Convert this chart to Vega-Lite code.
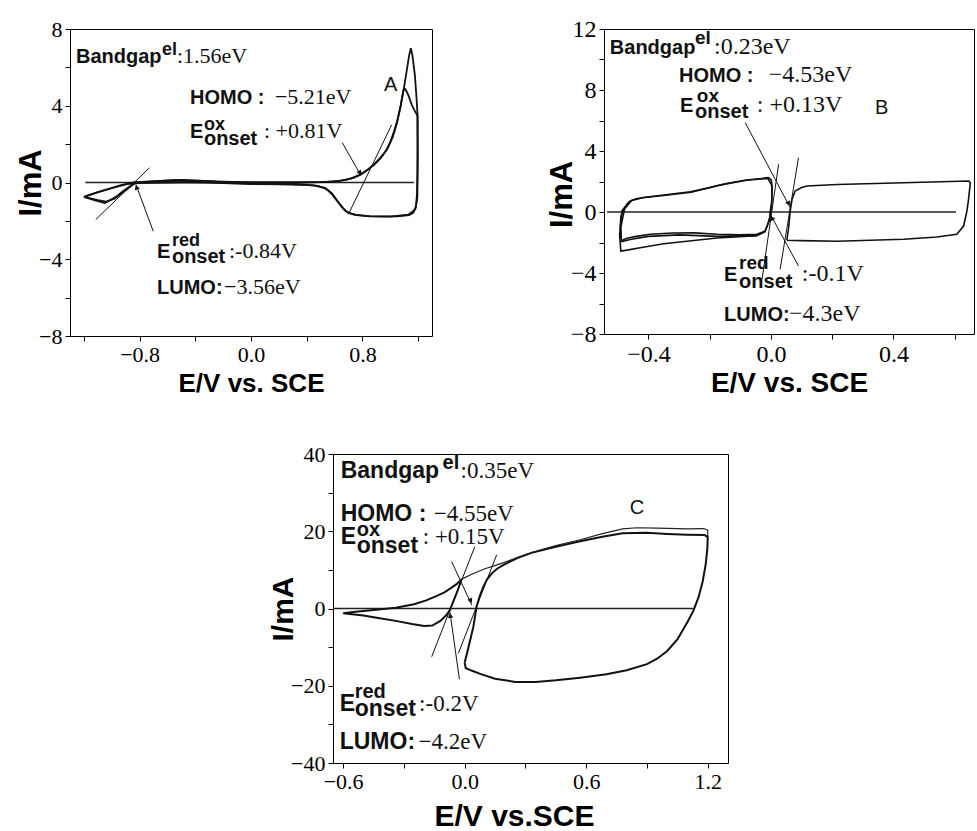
{
  "$schema": "https://vega.github.io/schema/vega-lite/v6.json",
  "background": "white",
  "padding": {"left": 15, "top": 16, "right": 0, "bottom": 0},
  "bounds": "flush",
  "spacing": 425,
  "config": {
    "view": {"stroke": "#000", "strokeWidth": 1},
    "axis": {
      "grid": false, "domain": false, "ticks": true, "tickColor": "#000", "tickSize": 5, "tickWidth": 1,
      "labelFont": "Liberation Serif", "labelFontSize": 22, "labelColor": "#000", "labelPadding": 3,
      "labelOverlap": false, "labelFlush": false,
      "titleFont": "Liberation Sans", "titleFontWeight": "bold", "titleColor": "#000"
    }
  },
  "vconcat": [
    {
      "hconcat": [
        {
          "width": 362, "height": 307,
          "encoding": {
            "x": {"field": "x", "type": "quantitative", "title": "E/V vs. SCE",
              "scale": {"domain": [-1.3, 1.3], "nice": false, "zero": false},
              "axis": {"values": [-1.2, -0.8, -0.4, 0, 0.4, 0.8, 1.2],
                "labelExpr": "abs(abs(datum.value)-0.8)<0.01 || abs(datum.value)<0.01 ? format(datum.value,'.1f') : ''",
                "titleFontSize": 26, "titlePadding": 5}},
            "y": {"field": "y", "type": "quantitative", "title": "I/mA",
              "scale": {"domain": [-8, 8], "nice": false, "zero": false},
              "axis": {"values": [-8, -6, -4, -2, 0, 2, 4, 6, 8],
                "labelExpr": "datum.value % 4 == 0 ? format(datum.value,'d') : ''",
                "titleFontSize": 31, "titlePadding": -9}}
          },
          "layer": [
            {"data": {"values": [{"x": -1.19, "y": 0}, {"x": 1.17, "y": 0}]},
             "mark": {"type": "line", "color": "#222", "strokeWidth": 1.3}},
            {"data": {"values": [
              {"c":1,"i":1,"x":-1.2,"y":-0.75},{"c":1,"i":2,"x":-1.12,"y":-0.55},{"c":1,"i":3,"x":-1.04,"y":-0.37},{"c":1,"i":4,"x":-0.94,"y":-0.15},{"c":1,"i":5,"x":-0.84,"y":0.0},{"c":1,"i":6,"x":-0.75,"y":0.05},{"c":1,"i":7,"x":-0.62,"y":0.1},{"c":1,"i":8,"x":-0.5,"y":0.13},{"c":1,"i":9,"x":-0.38,"y":0.1},{"c":1,"i":10,"x":-0.25,"y":0.05},{"c":1,"i":11,"x":-0.1,"y":0.02},{"c":1,"i":12,"x":0.05,"y":0.0},{"c":1,"i":13,"x":0.2,"y":0.0},{"c":1,"i":14,"x":0.35,"y":0.0},{"c":1,"i":15,"x":0.5,"y":0.02},{"c":1,"i":16,"x":0.6,"y":0.06},{"c":1,"i":17,"x":0.68,"y":0.14},{"c":1,"i":18,"x":0.74,"y":0.25},{"c":1,"i":19,"x":0.79,"y":0.42},{"c":1,"i":20,"x":0.84,"y":0.68},{"c":1,"i":21,"x":0.884,"y":0.94},{"c":1,"i":22,"x":0.93,"y":1.3},{"c":1,"i":23,"x":0.968,"y":1.64},{"c":1,"i":24,"x":1.0,"y":2.1},{"c":1,"i":25,"x":1.028,"y":2.68},{"c":1,"i":26,"x":1.05,"y":3.2},{"c":1,"i":27,"x":1.075,"y":4.0},{"c":1,"i":28,"x":1.1,"y":5.0},{"c":1,"i":29,"x":1.12,"y":5.9},{"c":1,"i":30,"x":1.135,"y":6.6},{"c":1,"i":31,"x":1.148,"y":7.0},{"c":1,"i":32,"x":1.16,"y":6.6},{"c":1,"i":33,"x":1.177,"y":5.6},{"c":1,"i":34,"x":1.188,"y":4.5},{"c":1,"i":35,"x":1.196,"y":3.55},{"c":1,"i":36,"x":1.196,"y":2.0},{"c":1,"i":37,"x":1.195,"y":0.5},{"c":1,"i":38,"x":1.192,"y":-0.6},{"c":1,"i":39,"x":1.185,"y":-1.25},{"c":1,"i":40,"x":1.165,"y":-1.58},{"c":1,"i":41,"x":1.135,"y":-1.7},{"c":1,"i":42,"x":1.05,"y":-1.76},{"c":1,"i":43,"x":0.95,"y":-1.77},{"c":1,"i":44,"x":0.85,"y":-1.75},{"c":1,"i":45,"x":0.76,"y":-1.7},{"c":1,"i":46,"x":0.7,"y":-1.58},{"c":1,"i":47,"x":0.66,"y":-1.35},{"c":1,"i":48,"x":0.62,"y":-0.98},{"c":1,"i":49,"x":0.58,"y":-0.6},{"c":1,"i":50,"x":0.54,"y":-0.33},{"c":1,"i":51,"x":0.48,"y":-0.18},{"c":1,"i":52,"x":0.4,"y":-0.12},{"c":1,"i":53,"x":0.25,"y":-0.1},{"c":1,"i":54,"x":0.1,"y":-0.07},{"c":1,"i":55,"x":0.0,"y":-0.05},{"c":1,"i":56,"x":-0.2,"y":-0.02},{"c":1,"i":57,"x":-0.4,"y":0.02},{"c":1,"i":58,"x":-0.6,"y":0.0},{"c":1,"i":59,"x":-0.75,"y":-0.02},{"c":1,"i":60,"x":-0.84,"y":-0.05},{"c":1,"i":61,"x":-0.92,"y":-0.45},{"c":1,"i":62,"x":-0.97,"y":-0.75},{"c":1,"i":63,"x":-1.05,"y":-1.07},{"c":1,"i":64,"x":-1.12,"y":-0.93},{"c":1,"i":65,"x":-1.2,"y":-0.75},
              {"c":2,"i":1,"x":-1.2,"y":-0.75},{"c":2,"i":2,"x":-1.1,"y":-0.5},{"c":2,"i":3,"x":-1.0,"y":-0.3},{"c":2,"i":4,"x":-0.9,"y":-0.1},{"c":2,"i":5,"x":-0.83,"y":0.0},{"c":2,"i":6,"x":-0.7,"y":0.06},{"c":2,"i":7,"x":-0.55,"y":0.12},{"c":2,"i":8,"x":-0.4,"y":0.1},{"c":2,"i":9,"x":-0.2,"y":0.04},{"c":2,"i":10,"x":0.0,"y":0.0},{"c":2,"i":11,"x":0.3,"y":0.0},{"c":2,"i":12,"x":0.55,"y":0.03},{"c":2,"i":13,"x":0.65,"y":0.1},{"c":2,"i":14,"x":0.72,"y":0.22},{"c":2,"i":15,"x":0.78,"y":0.4},{"c":2,"i":16,"x":0.83,"y":0.62},{"c":2,"i":17,"x":0.88,"y":0.9},{"c":2,"i":18,"x":0.93,"y":1.25},{"c":2,"i":19,"x":0.98,"y":1.75},{"c":2,"i":20,"x":1.02,"y":2.4},{"c":2,"i":21,"x":1.05,"y":3.15},{"c":2,"i":22,"x":1.075,"y":4.0},{"c":2,"i":23,"x":1.092,"y":4.7},{"c":2,"i":24,"x":1.1,"y":4.9},{"c":2,"i":25,"x":1.11,"y":4.85},{"c":2,"i":26,"x":1.13,"y":4.55},{"c":2,"i":27,"x":1.155,"y":4.05},{"c":2,"i":28,"x":1.177,"y":3.72},{"c":2,"i":29,"x":1.196,"y":3.47},{"c":2,"i":30,"x":1.198,"y":1.5},{"c":2,"i":31,"x":1.195,"y":-0.8},{"c":2,"i":32,"x":1.18,"y":-1.4},{"c":2,"i":33,"x":1.13,"y":-1.68},{"c":2,"i":34,"x":1.0,"y":-1.78},{"c":2,"i":35,"x":0.85,"y":-1.77},{"c":2,"i":36,"x":0.74,"y":-1.68},{"c":2,"i":37,"x":0.68,"y":-1.5},{"c":2,"i":38,"x":0.63,"y":-1.05},{"c":2,"i":39,"x":0.58,"y":-0.55},{"c":2,"i":40,"x":0.53,"y":-0.28},{"c":2,"i":41,"x":0.45,"y":-0.15},{"c":2,"i":42,"x":0.3,"y":-0.1},{"c":2,"i":43,"x":0.0,"y":-0.08},{"c":2,"i":44,"x":-0.3,"y":0.0},{"c":2,"i":45,"x":-0.6,"y":0.02},{"c":2,"i":46,"x":-0.83,"y":-0.02},{"c":2,"i":47,"x":-0.9,"y":-0.4},{"c":2,"i":48,"x":-0.98,"y":-0.85},{"c":2,"i":49,"x":-1.04,"y":-1.0},{"c":2,"i":50,"x":-1.1,"y":-0.92},{"c":2,"i":51,"x":-1.2,"y":-0.75}
            ]},
             "mark": {"type": "line", "color": "#111", "strokeWidth": 1.8},
             "encoding": {"detail": {"field": "c", "type": "nominal"}, "order": {"field": "i", "type": "quantitative"}}},
            {"data": {"values": [
              {"x": -1.115, "y": -1.93, "x2": -0.73, "y2": 0.76},
              {"x": 0.70, "y": -1.65, "x2": 1.01, "y2": 3.0},
              {"x": -0.702, "y": -2.54, "x2": -0.827, "y2": -0.1},
              {"x": 0.656, "y": 2.07, "x2": 0.788, "y2": 0.38}
            ]},
             "mark": {"type": "rule", "color": "#111", "strokeWidth": 1},
             "encoding": {"x2": {"field": "x2"}, "y2": {"field": "y2"}}},
            {"data": {"values": [{"x": -0.822, "y": -0.25}]},
             "mark": {"type": "point", "shape": "triangle-up", "filled": true, "color": "#111", "opacity": 1, "size": 30, "angle": -20}},
            {"data": {"values": [{"x": 0.783, "y": 0.5}]},
             "mark": {"type": "point", "shape": "triangle-up", "filled": true, "color": "#111", "opacity": 1, "size": 30, "angle": 150}},
            {"data": {"values": [
              {"x": -1.257, "y": 6.23, "t": "Bandgap"}, {"x": -0.438, "y": 4.09, "t": "HOMO :"},
              {"x": -0.438, "y": 2.32, "t": "E"}, {"x": -0.338, "y": 1.95, "t": "onset"},
              {"x": -0.675, "y": -3.93, "t": "E"}, {"x": -0.568, "y": -4.19, "t": "onset"},
              {"x": -0.675, "y": -5.81, "t": "LUMO:"}
            ]},
             "mark": {"type": "text", "align": "left", "baseline": "alphabetic", "font": "Liberation Sans", "fontWeight": "bold", "fontSize": 20, "color": "#111"},
             "encoding": {"text": {"field": "t"}}},
            {"data": {"values": [
              {"x": -0.639, "y": 6.64, "t": "el"}, {"x": -0.338, "y": 2.74, "t": "ox"}, {"x": -0.568, "y": -3.31, "t": "red"}
            ]},
             "mark": {"type": "text", "align": "left", "baseline": "alphabetic", "font": "Liberation Sans", "fontWeight": "bold", "fontSize": 18, "color": "#111"},
             "encoding": {"text": {"field": "t"}}},
            {"data": {"values": [
              {"x": -0.532, "y": 6.23, "t": ":1.56eV"}, {"x": 0.172, "y": 4.09, "t": "−5.21eV"},
              {"x": 0.093, "y": 2.32, "t": ": +0.81V"}, {"x": -0.158, "y": -3.93, "t": ":-0.84V"},
              {"x": -0.194, "y": -5.81, "t": "−3.56eV"}
            ]},
             "mark": {"type": "text", "align": "left", "baseline": "alphabetic", "font": "Liberation Serif", "fontSize": 22, "color": "#111"},
             "encoding": {"text": {"field": "t"}}},
            {"data": {"values": [{"x": 0.955, "y": 4.77, "t": "A"}]},
             "mark": {"type": "text", "align": "left", "baseline": "alphabetic", "font": "Liberation Sans", "fontSize": 20, "color": "#111"},
             "encoding": {"text": {"field": "t"}}}
          ]
        },
        {
          "width": 370, "height": 305,
          "encoding": {
            "x": {"field": "x", "type": "quantitative", "title": "E/V vs. SCE",
              "scale": {"domain": [-0.545, 0.663], "nice": false, "zero": false},
              "axis": {"values": [-0.4, -0.2, 0, 0.2, 0.4, 0.6],
                "labelExpr": "datum.value == -0.4 || datum.value == 0 || datum.value == 0.4 ? format(datum.value,'.1f') : ''",
                "labelFontSize": 24, "titleFontSize": 28, "titlePadding": 3}},
            "y": {"field": "y", "type": "quantitative", "title": "I/mA",
              "scale": {"domain": [-8, 12], "nice": false, "zero": false},
              "axis": {"values": [-8, -6, -4, -2, 0, 2, 4, 6, 8, 10, 12],
                "labelExpr": "datum.value % 4 == 0 ? format(datum.value,'d') : ''",
                "labelFontSize": 24, "titleFontSize": 31, "titlePadding": -8, "titleY": 165}}
          },
          "layer": [
            {"data": {"values": [{"x": -0.535, "y": 0}, {"x": 0.604, "y": 0}]},
             "mark": {"type": "line", "color": "#222", "strokeWidth": 1.3}},
            {"data": {"values": [
              {"c":1,"i":1,"x":-0.49,"y":-1.9},{"c":1,"i":2,"x":-0.492,"y":-1.0},{"c":1,"i":3,"x":-0.49,"y":-0.3},{"c":1,"i":4,"x":-0.481,"y":0.17},{"c":1,"i":5,"x":-0.47,"y":0.5},{"c":1,"i":6,"x":-0.459,"y":0.72},{"c":1,"i":7,"x":-0.44,"y":0.86},{"c":1,"i":8,"x":-0.41,"y":0.97},{"c":1,"i":9,"x":-0.35,"y":1.11},{"c":1,"i":10,"x":-0.263,"y":1.33},{"c":1,"i":11,"x":-0.2,"y":1.6},{"c":1,"i":12,"x":-0.15,"y":1.85},{"c":1,"i":13,"x":-0.08,"y":2.1},{"c":1,"i":14,"x":-0.03,"y":2.2},{"c":1,"i":15,"x":-0.008,"y":2.25},{"c":1,"i":16,"x":0.001,"y":2.1},{"c":1,"i":17,"x":0.003,"y":1.81},{"c":1,"i":18,"x":0.003,"y":0.72},{"c":1,"i":19,"x":-0.002,"y":0.07},{"c":1,"i":20,"x":-0.004,"y":-0.37},{"c":1,"i":21,"x":-0.012,"y":-0.9},{"c":1,"i":22,"x":-0.019,"y":-1.25},{"c":1,"i":23,"x":-0.046,"y":-1.46},{"c":1,"i":24,"x":-0.1,"y":-1.5},{"c":1,"i":25,"x":-0.176,"y":-1.46},{"c":1,"i":26,"x":-0.25,"y":-1.37},{"c":1,"i":27,"x":-0.32,"y":-1.38},{"c":1,"i":28,"x":-0.394,"y":-1.46},{"c":1,"i":29,"x":-0.44,"y":-1.6},{"c":1,"i":30,"x":-0.47,"y":-1.72},{"c":1,"i":31,"x":-0.49,"y":-1.9},
              {"c":2,"i":1,"x":-0.488,"y":-1.95},{"c":2,"i":2,"x":-0.49,"y":-1.0},{"c":2,"i":3,"x":-0.478,"y":0.2},{"c":2,"i":4,"x":-0.455,"y":0.75},{"c":2,"i":5,"x":-0.42,"y":0.93},{"c":2,"i":6,"x":-0.35,"y":1.08},{"c":2,"i":7,"x":-0.26,"y":1.3},{"c":2,"i":8,"x":-0.176,"y":1.72},{"c":2,"i":9,"x":-0.08,"y":2.08},{"c":2,"i":10,"x":-0.01,"y":2.2},{"c":2,"i":11,"x":0.004,"y":1.7},{"c":2,"i":12,"x":0.002,"y":0.3},{"c":2,"i":13,"x":-0.006,"y":-0.6},{"c":2,"i":14,"x":-0.02,"y":-1.3},{"c":2,"i":15,"x":-0.05,"y":-1.55},{"c":2,"i":16,"x":-0.176,"y":-1.6},{"c":2,"i":17,"x":-0.3,"y":-1.5},{"c":2,"i":18,"x":-0.4,"y":-1.6},{"c":2,"i":19,"x":-0.46,"y":-1.8},{"c":2,"i":20,"x":-0.488,"y":-1.95},
              {"c":3,"i":1,"x":-0.02,"y":-1.3},{"c":3,"i":2,"x":-0.046,"y":-1.55},{"c":3,"i":3,"x":-0.176,"y":-1.7},{"c":3,"i":4,"x":-0.35,"y":-2.08},{"c":3,"i":5,"x":-0.427,"y":-2.34},{"c":3,"i":6,"x":-0.47,"y":-2.5},{"c":3,"i":7,"x":-0.49,"y":-2.56},{"c":3,"i":8,"x":-0.494,"y":-1.5},{"c":3,"i":9,"x":-0.486,"y":0.1},{"c":3,"i":10,"x":-0.462,"y":0.68},
              {"c":4,"i":1,"x":0.052,"y":-1.85},{"c":4,"i":2,"x":0.058,"y":-1.0},{"c":4,"i":3,"x":0.063,"y":0.07},{"c":4,"i":4,"x":0.069,"y":0.83},{"c":4,"i":5,"x":0.079,"y":1.38},{"c":4,"i":6,"x":0.1,"y":1.6},{"c":4,"i":7,"x":0.118,"y":1.7},{"c":4,"i":8,"x":0.216,"y":1.8},{"c":4,"i":9,"x":0.433,"y":1.92},{"c":4,"i":10,"x":0.646,"y":2.03},{"c":4,"i":11,"x":0.651,"y":1.92},{"c":4,"i":12,"x":0.645,"y":0.8},{"c":4,"i":13,"x":0.64,"y":0.07},{"c":4,"i":14,"x":0.629,"y":-0.92},{"c":4,"i":15,"x":0.607,"y":-1.46},{"c":4,"i":16,"x":0.542,"y":-1.64},{"c":4,"i":17,"x":0.433,"y":-1.79},{"c":4,"i":18,"x":0.216,"y":-1.92},{"c":4,"i":19,"x":0.1,"y":-1.88},{"c":4,"i":20,"x":0.052,"y":-1.85}
            ]},
             "mark": {"type": "line", "color": "#111", "strokeWidth": 1.6},
             "encoding": {"detail": {"field": "c", "type": "nominal"}, "order": {"field": "i", "type": "quantitative"}}},
            {"data": {"values": [
              {"x": 0.025, "y": 3.13, "x2": -0.029, "y2": -4.42},
              {"x": 0.09, "y": 3.56, "x2": 0.03, "y2": -3.76},
              {"x": -0.084, "y": 5.86, "x2": 0.063, "y2": 0.28},
              {"x": 0.09, "y": -3.54, "x2": -0.002, "y2": -0.15}
            ]},
             "mark": {"type": "rule", "color": "#111", "strokeWidth": 1},
             "encoding": {"x2": {"field": "x2"}, "y2": {"field": "y2"}}},
            {"data": {"values": [{"x": 0.058, "y": 0.55}]},
             "mark": {"type": "point", "shape": "triangle-up", "filled": true, "color": "#111", "opacity": 1, "size": 30, "angle": 152}},
            {"data": {"values": [{"x": 0.003, "y": -0.4}]},
             "mark": {"type": "point", "shape": "triangle-up", "filled": true, "color": "#111", "opacity": 1, "size": 30, "angle": -29}},
            {"data": {"values": [
              {"x": -0.526, "y": 10.36, "t": "Bandgap"}, {"x": -0.300, "y": 8.52, "t": "HOMO :"},
              {"x": -0.297, "y": 6.54, "t": "E"}, {"x": -0.248, "y": 6.16, "t": "onset"},
              {"x": -0.153, "y": -4.52, "t": "E"}, {"x": -0.104, "y": -4.98, "t": "onset"},
              {"x": -0.153, "y": -7.15, "t": "LUMO:"}
            ]},
             "mark": {"type": "text", "align": "left", "baseline": "alphabetic", "font": "Liberation Sans", "fontWeight": "bold", "fontSize": 20, "color": "#111"},
             "encoding": {"text": {"field": "t"}}},
            {"data": {"values": [
              {"x": -0.248, "y": 11.02, "t": "el"}, {"x": -0.242, "y": 7.21, "t": "ox"}, {"x": -0.104, "y": -3.74, "t": "red"}
            ]},
             "mark": {"type": "text", "align": "left", "baseline": "alphabetic", "font": "Liberation Sans", "fontWeight": "bold", "fontSize": 19, "color": "#111"},
             "encoding": {"text": {"field": "t"}}},
            {"data": {"values": [
              {"x": -0.186, "y": 10.36, "t": ":0.23eV"}, {"x": -0.007, "y": 8.52, "t": "−4.53eV"},
              {"x": -0.046, "y": 6.54, "t": ": +0.13V"}, {"x": 0.101, "y": -4.52, "t": ":-0.1V"},
              {"x": 0.059, "y": -7.15, "t": "−4.3eV"}
            ]},
             "mark": {"type": "text", "align": "left", "baseline": "alphabetic", "font": "Liberation Serif", "fontSize": 24, "color": "#111"},
             "encoding": {"text": {"field": "t"}}},
            {"data": {"values": [{"x": 0.34, "y": 6.43, "t": "B"}]},
             "mark": {"type": "text", "align": "left", "baseline": "alphabetic", "font": "Liberation Sans", "fontSize": 20, "color": "#111"},
             "encoding": {"text": {"field": "t"}}}
          ]
        }
      ],
      "spacing": 172,
      "bounds": "flush"
    },
    {
      "hconcat": [
        {
          "width": 263, "height": 309,
          "view": {"stroke": null},
          "data": {"values": [{"x": 0}]},
          "mark": {"type": "point", "opacity": 0},
          "encoding": {}
        },
        {
          "width": 395, "height": 309,
          "encoding": {
            "x": {"field": "x", "type": "quantitative", "title": "E/V vs.SCE",
              "scale": {"domain": [-0.65, 1.3], "nice": false, "zero": false},
              "axis": {"values": [-0.6, -0.3, 0, 0.3, 0.6, 0.9, 1.2],
                "labelExpr": "datum.value == -0.6 || datum.value == 0 || datum.value == 0.6 || datum.value == 1.2 ? format(datum.value,'.1f') : ''",
                "titleFontSize": 30, "titlePadding": 9, "titleX": 181}},
            "y": {"field": "y", "type": "quantitative", "title": "I/mA",
              "scale": {"domain": [-40, 40], "nice": false, "zero": false},
              "axis": {"values": [-40, -30, -20, -10, 0, 10, 20, 30, 40],
                "labelExpr": "datum.value % 20 == 0 ? format(datum.value,'d') : ''",
                "titleFontSize": 30, "titlePadding": -8}}
          },
          "layer": [
            {"data": {"values": [{"x": -0.65, "y": 0}, {"x": 1.13, "y": 0}]},
             "mark": {"type": "line", "color": "#222", "strokeWidth": 1.3}},
            {"data": {"values": [
              {"c":1,"i":1,"x":-0.6,"y":-1.2},{"c":1,"i":2,"x":-0.5,"y":-1.8},{"c":1,"i":3,"x":-0.42,"y":-2.5},{"c":1,"i":4,"x":-0.34,"y":-3.2},{"c":1,"i":5,"x":-0.26,"y":-4.0},{"c":1,"i":6,"x":-0.2,"y":-4.5},{"c":1,"i":7,"x":-0.16,"y":-4.4},{"c":1,"i":8,"x":-0.12,"y":-3.2},{"c":1,"i":9,"x":-0.09,"y":-1.7},{"c":1,"i":10,"x":-0.073,"y":-0.4},{"c":1,"i":11,"x":-0.055,"y":2.0},{"c":1,"i":12,"x":-0.035,"y":4.6},{"c":1,"i":13,"x":-0.015,"y":7.6},{"c":1,"i":14,"x":-0.04,"y":6.3},{"c":1,"i":15,"x":-0.07,"y":5.2},{"c":1,"i":16,"x":-0.1,"y":4.2},{"c":1,"i":17,"x":-0.14,"y":3.2},{"c":1,"i":18,"x":-0.19,"y":2.1},{"c":1,"i":19,"x":-0.25,"y":1.1},{"c":1,"i":20,"x":-0.34,"y":0.2},{"c":1,"i":21,"x":-0.45,"y":-0.4},{"c":1,"i":22,"x":-0.55,"y":-0.9},{"c":1,"i":23,"x":-0.6,"y":-1.2},
              {"c":2,"i":1,"x":0.0,"y":-14.0},{"c":2,"i":2,"x":0.012,"y":-11.5},{"c":2,"i":3,"x":0.028,"y":-8.0},{"c":2,"i":4,"x":0.043,"y":-4.7},{"c":2,"i":5,"x":0.059,"y":0.5},{"c":2,"i":6,"x":0.075,"y":3.3},{"c":2,"i":7,"x":0.092,"y":5.6},{"c":2,"i":8,"x":0.11,"y":7.5},{"c":2,"i":9,"x":0.134,"y":9.1},{"c":2,"i":10,"x":0.16,"y":10.3},{"c":2,"i":11,"x":0.192,"y":11.3},{"c":2,"i":12,"x":0.257,"y":13.0},{"c":2,"i":13,"x":0.33,"y":14.4},{"c":2,"i":14,"x":0.45,"y":16.0},{"c":2,"i":15,"x":0.57,"y":17.4},{"c":2,"i":16,"x":0.68,"y":18.6},{"c":2,"i":17,"x":0.78,"y":19.5},{"c":2,"i":18,"x":0.9,"y":19.6},{"c":2,"i":19,"x":1.0,"y":19.3},{"c":2,"i":20,"x":1.1,"y":19.1},{"c":2,"i":21,"x":1.185,"y":19.0},{"c":2,"i":22,"x":1.2,"y":18.5},{"c":2,"i":23,"x":1.198,"y":15.5},{"c":2,"i":24,"x":1.19,"y":11.5},{"c":2,"i":25,"x":1.175,"y":7.0},{"c":2,"i":26,"x":1.155,"y":3.0},{"c":2,"i":27,"x":1.13,"y":-0.5},{"c":2,"i":28,"x":1.1,"y":-3.5},{"c":2,"i":29,"x":1.05,"y":-8.0},{"c":2,"i":30,"x":1.0,"y":-11.0},{"c":2,"i":31,"x":0.95,"y":-13.0},{"c":2,"i":32,"x":0.9,"y":-14.4},{"c":2,"i":33,"x":0.8,"y":-16.0},{"c":2,"i":34,"x":0.7,"y":-17.0},{"c":2,"i":35,"x":0.57,"y":-17.9},{"c":2,"i":36,"x":0.45,"y":-18.6},{"c":2,"i":37,"x":0.35,"y":-19.0},{"c":2,"i":38,"x":0.25,"y":-19.0},{"c":2,"i":39,"x":0.15,"y":-18.2},{"c":2,"i":40,"x":0.08,"y":-17.0},{"c":2,"i":41,"x":0.03,"y":-16.0},{"c":2,"i":42,"x":0.005,"y":-15.4},{"c":2,"i":43,"x":0.0,"y":-14.0}
            ]},
             "mark": {"type": "line", "color": "#111", "strokeWidth": 2},
             "encoding": {"detail": {"field": "c", "type": "nominal"}, "order": {"field": "i", "type": "quantitative"}}},
            {"data": {"values": [
              {"i":1,"x":-0.015,"y":7.6},{"i":2,"x":0.04,"y":9.0},{"i":3,"x":0.1,"y":10.3},{"i":4,"x":0.16,"y":11.3},{"i":5,"x":0.23,"y":12.6},{"i":6,"x":0.33,"y":14.5},{"i":7,"x":0.45,"y":16.3},{"i":8,"x":0.57,"y":17.8},{"i":9,"x":0.68,"y":19.4},{"i":10,"x":0.78,"y":20.6},{"i":11,"x":0.85,"y":20.9},{"i":12,"x":0.95,"y":20.8},{"i":13,"x":1.1,"y":20.6},{"i":14,"x":1.18,"y":20.7},{"i":15,"x":1.2,"y":20.3},{"i":16,"x":1.2,"y":18.5}
            ]},
             "mark": {"type": "line", "color": "#222", "strokeWidth": 1.2},
             "encoding": {"order": {"field": "i", "type": "quantitative"}}},
            {"data": {"values": [
              {"x": -0.163, "y": -12.5, "x2": 0.05, "y2": 16.0},
              {"x": -0.031, "y": -11.6, "x2": 0.158, "y2": 13.9},
              {"x": -0.064, "y": 12.1, "x2": 0.035, "y2": 0.9},
              {"x": -0.026, "y": -18.3, "x2": -0.073, "y2": -0.8}
            ]},
             "mark": {"type": "rule", "color": "#111", "strokeWidth": 1},
             "encoding": {"x2": {"field": "x2"}, "y2": {"field": "y2"}}},
            {"data": {"values": [{"x": 0.03, "y": 2.0}]},
             "mark": {"type": "point", "shape": "triangle-up", "filled": true, "color": "#111", "opacity": 1, "size": 30, "angle": 155}},
            {"data": {"values": [{"x": -0.071, "y": -1.8}]},
             "mark": {"type": "point", "shape": "triangle-up", "filled": true, "color": "#111", "opacity": 1, "size": 30, "angle": -8}},
            {"data": {"values": [
              {"x": -0.612, "y": 33.9, "t": "Bandgap"}, {"x": -0.612, "y": 22.65, "t": "HOMO :"},
              {"x": -0.612, "y": 16.6, "t": "E"}, {"x": -0.533, "y": 14.4, "t": "onset"},
              {"x": -0.617, "y": -26.5, "t": "E"}, {"x": -0.543, "y": -27.8, "t": "onset"},
              {"x": -0.617, "y": -36.4, "t": "LUMO:"}
            ]},
             "mark": {"type": "text", "align": "left", "baseline": "alphabetic", "font": "Liberation Sans", "fontWeight": "bold", "fontSize": 23, "color": "#111"},
             "encoding": {"text": {"field": "t"}}},
            {"data": {"values": [
              {"x": -0.109, "y": 36.2, "t": "el"}, {"x": -0.533, "y": 18.8, "t": "ox"}, {"x": -0.543, "y": -23.2, "t": "red"}
            ]},
             "mark": {"type": "text", "align": "left", "baseline": "alphabetic", "font": "Liberation Sans", "fontWeight": "bold", "fontSize": 20, "color": "#111"},
             "encoding": {"text": {"field": "t"}}},
            {"data": {"values": [
              {"x": -0.02, "y": 33.9, "t": ":0.35eV"}, {"x": -0.153, "y": 22.65, "t": "−4.55eV"},
              {"x": -0.207, "y": 16.6, "t": ": +0.15V"}, {"x": -0.225, "y": -26.5, "t": ":-0.2V"},
              {"x": -0.228, "y": -36.4, "t": "−4.2eV"}
            ]},
             "mark": {"type": "text", "align": "left", "baseline": "alphabetic", "font": "Liberation Serif", "fontSize": 23, "color": "#111"},
             "encoding": {"text": {"field": "t"}}},
            {"data": {"values": [{"x": 0.815, "y": 24.5, "t": "C"}]},
             "mark": {"type": "text", "align": "left", "baseline": "alphabetic", "font": "Liberation Sans", "fontSize": 20, "color": "#111"},
             "encoding": {"text": {"field": "t"}}}
          ]
        }
      ],
      "spacing": 0,
      "bounds": "flush"
    }
  ]
}
